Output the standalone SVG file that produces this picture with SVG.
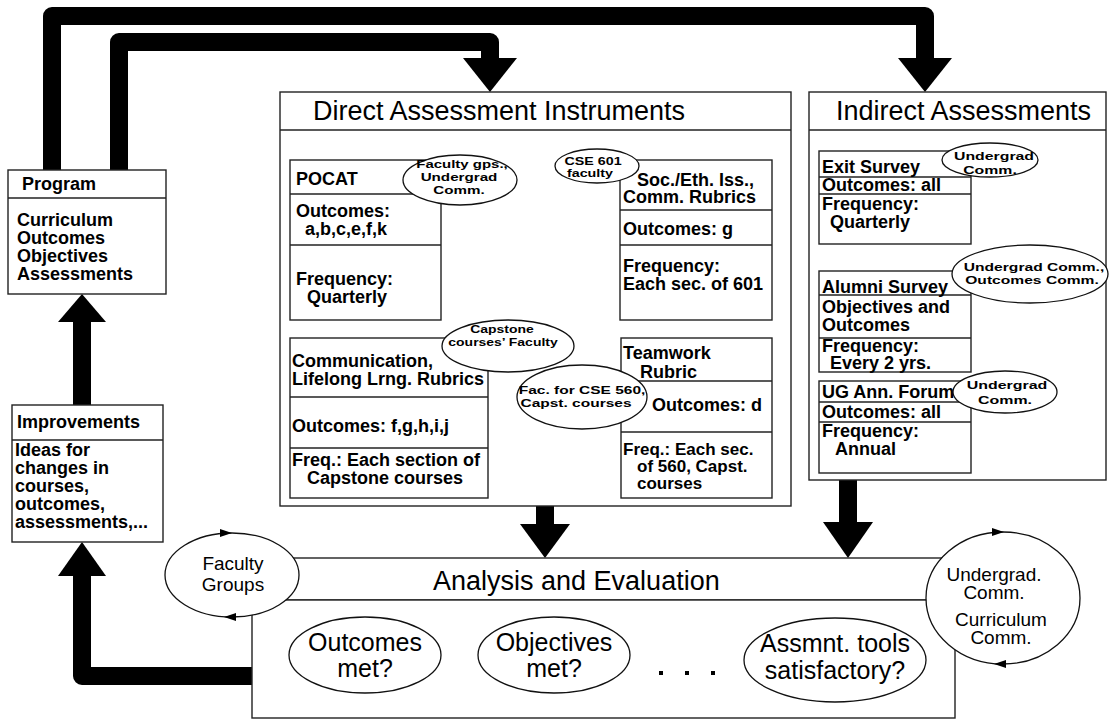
<svg xmlns="http://www.w3.org/2000/svg" width="1111" height="719" viewBox="0 0 1111 719">
<style>
.bx{fill:#fff;stroke:#222;stroke-width:1.4}
.ln{stroke:#222;stroke-width:1.4}
.el{fill:#fff;stroke:#111;stroke-width:1.3}
.b{font-family:"Liberation Sans",Arial,sans-serif;font-weight:bold;font-size:18px;fill:#000}
.b2{font-family:"Liberation Sans",Arial,sans-serif;font-weight:bold;font-size:17px;fill:#000}
.e{font-family:"Liberation Sans",Arial,sans-serif;font-weight:bold;font-size:11px;fill:#000;text-anchor:middle}
.t{font-family:"Liberation Sans",Arial,sans-serif;font-size:27px;fill:#000}
.r{font-family:"Liberation Sans",Arial,sans-serif;font-size:19px;fill:#000;text-anchor:middle}
.q{font-family:"Liberation Sans",Arial,sans-serif;font-size:25px;fill:#000;text-anchor:middle}
.bar{fill:none;stroke:#000;stroke-width:18;stroke-linejoin:round}
.hd{fill:#000}
</style>

<g id="connectors">
  <path class="bar" d="M52,170 V16 H925 V62"/>
  <polygon class="hd" points="898,58 952,58 925,92"/>
  <path class="bar" d="M119,170 V42 H490 V62"/>
  <polygon class="hd" points="463,58 517,58 490,92"/>
  <path class="bar" d="M82,405 V318"/>
  <polygon class="hd" points="58,322 106,322 82,294"/>
  <path class="bar" d="M252,676 H82 V572"/>
  <polygon class="hd" points="58,576 106,576 82,542"/>
  <path class="bar" d="M545,506 V528"/>
  <polygon class="hd" points="520,524 570,524 545,558"/>
  <path class="bar" d="M848,480 V526"/>
  <polygon class="hd" points="823,522 873,522 848,558"/>
</g>

<g id="program">
  <rect class="bx" x="8" y="170" width="158" height="124"/>
  <line class="ln" x1="8" y1="198" x2="166" y2="198"/>
  <text class="b" x="22" y="190">Program</text>
  <text class="b" x="17" y="226">Curriculum</text>
  <text class="b" x="17" y="244">Outcomes</text>
  <text class="b" x="17" y="262">Objectives</text>
  <text class="b" x="17" y="280">Assessments</text>
</g>

<g id="improvements">
  <rect class="bx" x="12" y="405" width="151" height="137"/>
  <line class="ln" x1="12" y1="440" x2="163" y2="440"/>
  <text class="b" x="17" y="428">Improvements</text>
  <text class="b" x="15" y="456">Ideas for</text>
  <text class="b" x="15" y="474">changes in</text>
  <text class="b" x="15" y="492">courses,</text>
  <text class="b" x="15" y="510">outcomes,</text>
  <text class="b" x="15" y="528">assessments,...</text>
</g>

<g id="direct">
  <rect class="bx" x="280" y="92" width="511" height="414"/>
  <line class="ln" x1="280" y1="130" x2="791" y2="130"/>
  <text class="t" x="313" y="120">Direct Assessment Instruments</text>
</g>

<g id="pocat">
  <rect class="bx" x="290" y="160" width="151" height="160"/>
  <line class="ln" x1="290" y1="194" x2="441" y2="194"/>
  <line class="ln" x1="290" y1="245" x2="441" y2="245"/>
  <text class="b" x="296" y="185">POCAT</text>
  <text class="b" x="296" y="217">Outcomes:</text>
  <text class="b" x="305" y="235">a,b,c,e,f,k</text>
  <text class="b" x="296" y="285">Frequency:</text>
  <text class="b" x="307" y="303">Quarterly</text>
  <ellipse class="el" cx="460" cy="180" rx="57" ry="25"/>
  <text class="e" transform="translate(462 168) scale(1.36 1)">Faculty gps.,</text>
  <text class="e" transform="translate(459 181) scale(1.38 1)">Undergrad</text>
  <text class="e" transform="translate(459 194) scale(1.38 1)">Comm.</text>
</g>

<g id="soc-eth">
  <rect class="bx" x="620" y="160" width="152" height="160"/>
  <line class="ln" x1="620" y1="210" x2="772" y2="210"/>
  <line class="ln" x1="620" y1="245" x2="772" y2="245"/>
  <text class="b" x="637" y="186">Soc./Eth. Iss.,</text>
  <text class="b" x="623" y="203">Comm. Rubrics</text>
  <text class="b" x="623" y="235">Outcomes: g</text>
  <text class="b" x="623" y="272">Frequency:</text>
  <text class="b" x="623" y="290">Each sec. of 601</text>
  <ellipse class="el" cx="597" cy="166" rx="42" ry="17"/>
  <text class="e" transform="translate(593 165) scale(1.3 1)">CSE 601</text>
  <text class="e" transform="translate(590 177) scale(1.3 1)">faculty</text>
</g>

<g id="communication">
  <rect class="bx" x="290" y="338" width="198" height="160"/>
  <line class="ln" x1="290" y1="397" x2="488" y2="397"/>
  <line class="ln" x1="290" y1="448" x2="488" y2="448"/>
  <text class="b" x="292" y="367">Communication,</text>
  <text class="b" x="292" y="385">Lifelong Lrng. Rubrics</text>
  <text class="b" x="292" y="432">Outcomes: f,g,h,i,j</text>
  <text class="b" x="292" y="466">Freq.: Each section of</text>
  <text class="b" x="307" y="484">Capstone courses</text>
  <ellipse class="el" cx="508" cy="346" rx="66" ry="26"/>
  <text class="e" transform="translate(502 333) scale(1.27 1)">Capstone</text>
  <text class="e" transform="translate(503 346) scale(1.27 1)">courses’ Faculty</text>
</g>

<g id="teamwork">
  <rect class="bx" x="621" y="338" width="151" height="160"/>
  <line class="ln" x1="621" y1="381" x2="772" y2="381"/>
  <line class="ln" x1="621" y1="432" x2="772" y2="432"/>
  <text class="b" x="623" y="359">Teamwork</text>
  <text class="b" x="640" y="378">Rubric</text>
  <text class="b" x="652" y="411">Outcomes: d</text>
  <text class="b2" x="623" y="455">Freq.: Each sec.</text>
  <text class="b2" x="637" y="472">of 560, Capst.</text>
  <text class="b2" x="637" y="489">courses</text>
  <ellipse class="el" cx="582" cy="397" rx="65" ry="32"/>
  <text class="e" transform="translate(582 394) scale(1.41 1)">Fac. for CSE 560,</text>
  <text class="e" transform="translate(576 407) scale(1.41 1)">Capst. courses</text>
</g>

<g id="indirect">
  <rect class="bx" x="809" y="92" width="297" height="388"/>
  <line class="ln" x1="809" y1="130" x2="1106" y2="130"/>
  <text class="t" x="836" y="120">Indirect Assessments</text>
</g>

<g id="exit-survey">
  <rect class="bx" x="819" y="151" width="152" height="93"/>
  <line class="ln" x1="819" y1="177" x2="971" y2="177"/>
  <line class="ln" x1="819" y1="194" x2="971" y2="194"/>
  <text class="b" x="822" y="173">Exit Survey</text>
  <text class="b" x="822" y="191">Outcomes: all</text>
  <text class="b" x="822" y="210">Frequency:</text>
  <text class="b" x="830" y="228">Quarterly</text>
  <ellipse class="el" cx="990" cy="160" rx="48" ry="17"/>
  <text class="e" transform="translate(994 160) scale(1.44 1)">Undergrad</text>
  <text class="e" transform="translate(990 174) scale(1.44 1)">Comm.</text>
</g>

<g id="alumni-survey">
  <rect class="bx" x="819" y="271" width="152" height="101"/>
  <line class="ln" x1="819" y1="295" x2="971" y2="295"/>
  <line class="ln" x1="819" y1="338" x2="971" y2="338"/>
  <text class="b" x="822" y="293">Alumni Survey</text>
  <text class="b" x="822" y="313">Objectives and</text>
  <text class="b" x="822" y="331">Outcomes</text>
  <text class="b" x="822" y="352">Frequency:</text>
  <text class="b" x="830" y="369">Every 2 yrs.</text>
  <ellipse class="el" cx="1030" cy="274" rx="78" ry="29"/>
  <text class="e" transform="translate(1034 271) scale(1.42 1)">Undergrad Comm.,</text>
  <text class="e" transform="translate(1032 284) scale(1.42 1)">Outcomes Comm.</text>
</g>

<g id="ug-forum">
  <rect class="bx" x="819" y="381" width="152" height="92"/>
  <line class="ln" x1="819" y1="402" x2="971" y2="402"/>
  <line class="ln" x1="819" y1="422" x2="971" y2="422"/>
  <text class="b" x="822" y="398">UG Ann. Forum</text>
  <text class="b" x="822" y="418">Outcomes: all</text>
  <text class="b" x="822" y="437">Frequency:</text>
  <text class="b" x="835" y="455">Annual</text>
  <ellipse class="el" cx="1005" cy="392" rx="52" ry="21"/>
  <text class="e" transform="translate(1007 389) scale(1.45 1)">Undergrad</text>
  <text class="e" transform="translate(1005 404) scale(1.45 1)">Comm.</text>
</g>

<g id="analysis">
  <rect class="bx" x="252" y="558" width="703" height="42"/>
  <rect class="bx" x="252" y="600" width="703" height="118"/>
  <text class="t" x="433" y="590">Analysis and Evaluation</text>
  <rect class="hd" x="659" y="671" width="4" height="4"/>
  <rect class="hd" x="685" y="671" width="4" height="4"/>
  <rect class="hd" x="711" y="671" width="4" height="4"/>
</g>

<g id="outcomes-met">
  <ellipse class="el" cx="365" cy="655" rx="76" ry="38"/>
  <text class="q" x="365" y="651">Outcomes</text>
  <text class="q" x="365" y="677">met?</text>
</g>

<g id="objectives-met">
  <ellipse class="el" cx="554" cy="655" rx="76" ry="38"/>
  <text class="q" x="554" y="651">Objectives</text>
  <text class="q" x="554" y="677">met?</text>
</g>

<g id="tools-ok">
  <ellipse class="el" cx="835" cy="660" rx="91" ry="42"/>
  <text class="q" x="835" y="652">Assmnt. tools</text>
  <text class="q" x="835" y="679">satisfactory?</text>
</g>

<g id="faculty-groups">
  <ellipse class="el" cx="232" cy="575" rx="67" ry="42"/>
  <polygon class="hd" points="220,529 232,533 220,537"/>
  <polygon class="hd" points="236,613 224,617 236,621"/>
  <text class="r" x="233" y="570">Faculty</text>
  <text class="r" x="233" y="591">Groups</text>
</g>

<g id="ug-curriculum-comm">
  <ellipse class="el" cx="1003" cy="598" rx="77" ry="66"/>
  <polygon class="hd" points="992,528 1004,532 992,536"/>
  <polygon class="hd" points="1006,660 994,664 1006,668"/>
  <text class="r" x="994" y="581">Undergrad.</text>
  <text class="r" x="994" y="599">Comm.</text>
  <text class="r" x="1001" y="626">Curriculum</text>
  <text class="r" x="1001" y="644">Comm.</text>
</g>
</svg>
